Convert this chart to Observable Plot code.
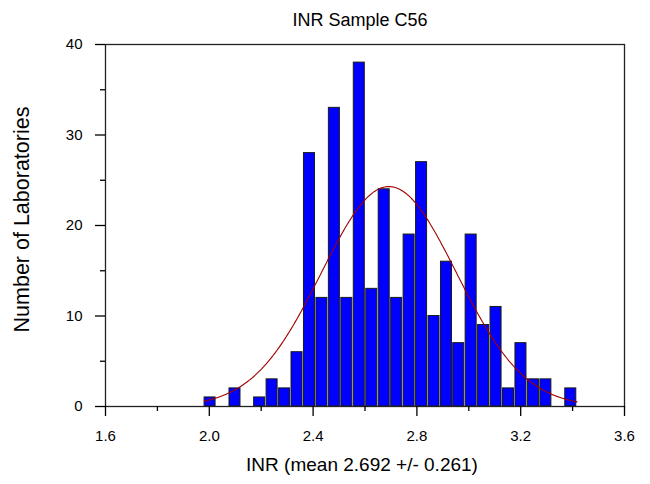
<!DOCTYPE html>
<html><head><meta charset="utf-8">
<script src="https://cdn.jsdelivr.net/npm/d3@7"></script>
<script src="https://cdn.jsdelivr.net/npm/@observablehq/plot@0.6"></script>
<style>body{margin:0;background:#fff;} svg{display:block;}</style>
</head><body><div id="chart"></div>
<script>
const binCenters = [2.003, 2.050, 2.099, 2.146, 2.194, 2.242, 2.290, 2.338, 2.386, 2.434,
                    2.482, 2.530, 2.578, 2.626, 2.674, 2.722, 2.770, 2.818, 2.866, 2.914,
                    2.961, 3.009, 3.057, 3.105, 3.153, 3.201, 3.249, 3.297, 3.345, 3.393];
const counts     = [1, 0, 2, 0, 1, 3, 2, 6, 28, 12,
                    33, 12, 38, 13, 24, 12, 19, 27, 10, 16,
                    7, 19, 9, 11, 2, 7, 3, 3, 0, 2];
const xTicks = [1.6, 2.0, 2.4, 2.8, 3.2, 3.6];
const xMinorTicks = [1.8, 2.2, 2.6, 3.0, 3.4];
const yTicks = [0, 10, 20, 30, 40];
const yMinorTicks = [5, 15, 25, 35];
const fitMean = 2.692, fitSd = 0.261, fitPeak = 24.3, fitFrom = 1.981, fitTo = 3.419;
const title = "INR Sample C56";
const xLabel = "INR (mean 2.692 +/- 0.261)";
const yLabel = "Number of Laboratories";

const bars = binCenters.map((x, i) => ({x, count: counts[i]})).filter(d => d.count > 0);
const half = 0.0212;
const curve = d3.range(fitFrom, fitTo + 1e-9, 0.004).map(x => ({x, y: fitPeak * Math.exp(-0.5 * ((x - fitMean) / fitSd) ** 2)}));

const chart = Plot.plot({
  width: 650, height: 484,
  marginLeft: 105, marginRight: 26, marginTop: 44, marginBottom: 78,
  x: {domain: [1.6, 3.6]},
  y: {domain: [0, 40]},
  style: {fontFamily: "'Liberation Sans', Arial, sans-serif", color: "#000", background: "#fff", overflow: "visible"},
  marks: [
    Plot.rectY(bars, {x1: d => d.x - half, x2: d => d.x + half, y: "count", fill: "#0000ff", stroke: "#1a1a1a", strokeWidth: 1}),
    Plot.line(curve, {x: "x", y: "y", stroke: "#a00000", strokeWidth: 1.1, curve: "linear"}),
    Plot.frame({stroke: "#222", strokeWidth: 1.3}),
    Plot.axisX(xTicks, {tickSize: 10, tickPadding: 14, fontSize: 15, tickFormat: d3.format(".1f"), label: null, strokeWidth: 1.3}),
    Plot.axisX(xMinorTicks, {tickSize: 5, tickFormat: () => "", label: null, strokeWidth: 1.3}),
    Plot.axisY(yTicks, {tickSize: 10, tickPadding: 13, fontSize: 15, label: null, strokeWidth: 1.3}),
    Plot.axisY(yMinorTicks, {tickSize: 5, tickFormat: () => "", label: null, strokeWidth: 1.3}),
    Plot.text([title], {frameAnchor: "top", dx: -5, dy: -31, fontSize: 18}),
    Plot.text([xLabel], {frameAnchor: "bottom", dx: -3, dy: 64, fontSize: 19}),
    Plot.text([yLabel], {frameAnchor: "left", textAnchor: "middle", dx: -83, dy: -6, rotate: -90, fontSize: 21.5})
  ]
});
document.getElementById("chart").appendChild(chart);
</script>
</body></html>
